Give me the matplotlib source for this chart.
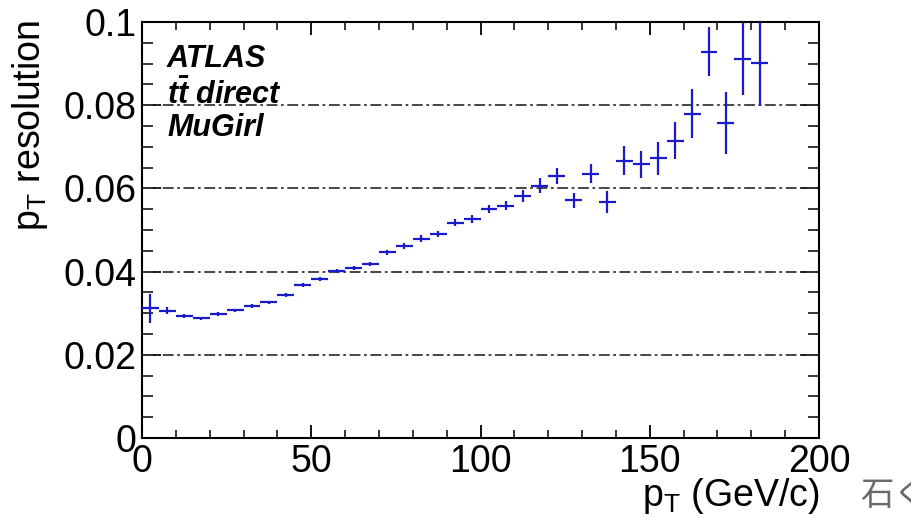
import numpy as np
import matplotlib
matplotlib.use("Agg")
import matplotlib.pyplot as plt
from matplotlib.ticker import MultipleLocator, FixedLocator

plt.rcParams['font.family'] = ['Liberation Sans', 'DejaVu Sans']
plt.rcParams['mathtext.fontset'] = 'custom'
plt.rcParams['mathtext.rm'] = 'Liberation Sans'
plt.rcParams['mathtext.it'] = 'Liberation Sans:italic'
plt.rcParams['mathtext.bf'] = 'Liberation Sans:bold'
plt.rcParams['mathtext.bfit'] = 'Liberation Sans:bold:italic'

# bin centres (GeV/c), resolution and its error
pt = [2.5, 7.5, 12.5, 17.5, 22.5, 27.5, 32.5, 37.5, 42.5, 47.5,
      52.5, 57.5, 62.5, 67.5, 72.5, 77.5, 82.5, 87.5, 92.5, 97.5,
      102.5, 107.5, 112.5, 117.5, 122.5, 127.5, 132.5, 137.5, 142.5, 147.5,
      152.5, 157.5, 162.5, 167.5, 172.5, 177.5, 182.5]
res = [0.0312, 0.0306, 0.0293, 0.0288, 0.0298, 0.0307, 0.0317, 0.0326, 0.0344, 0.0367,
       0.0382, 0.0401, 0.0409, 0.0419, 0.0447, 0.0462, 0.0479, 0.0490, 0.0518, 0.0526,
       0.0550, 0.0558, 0.0582, 0.0606, 0.0630, 0.0572, 0.0635, 0.0568, 0.0667, 0.0658,
       0.0672, 0.0715, 0.0780, 0.0929, 0.0757, 0.0911, 0.0902]
res_err = [0.0035, 0.0008, 0.0005, 0.0004, 0.0004, 0.0004, 0.0004, 0.0004, 0.0005, 0.0005,
           0.0005, 0.0005, 0.0005, 0.0005, 0.0006, 0.0007, 0.0008, 0.0008, 0.0009, 0.0009,
           0.0010, 0.0011, 0.0015, 0.0018, 0.0020, 0.0018, 0.0023, 0.0026, 0.0035, 0.0033,
           0.0039, 0.0044, 0.0058, 0.0060, 0.0075, 0.0087, 0.0104]
bin_half = 2.5

ytick_vals = [0, 0.02, 0.04, 0.06, 0.08, 0.1]
ytick_labels = ['0', '0.02', '0.04', '0.06', '0.08', '0.1']
grid_vals = [0.02, 0.04, 0.06, 0.08]

fig = plt.figure(figsize=(9.11, 5.28), dpi=100)
ax = fig.add_axes([142/911, 1-438/528, (819-142)/911, (438-22)/528])

ax.errorbar(pt, res, xerr=bin_half, yerr=res_err, fmt='none',
            ecolor='#1a1acc', elinewidth=1.6, capsize=0, zorder=3)

# dash-dot grid like ROOT
for g in grid_vals:
    ax.axhline(g, color='#383838', lw=1.3, ls=(0, (6, 2, 1.5, 2)), zorder=2)

ax.set_xlim(0, 200)
ax.set_ylim(0, 0.1)
ax.xaxis.set_major_locator(MultipleLocator(50))
ax.xaxis.set_minor_locator(MultipleLocator(10))
ax.yaxis.set_major_locator(FixedLocator(ytick_vals))
ax.set_yticklabels(ytick_labels)
ax.yaxis.set_minor_locator(MultipleLocator(0.005))

ax.tick_params(axis='both', which='both', direction='in', top=True, right=True,
               labelsize=27, color='black')
ax.tick_params(axis='x', which='major', length=9.5, width=1.3, pad=4)
ax.tick_params(axis='x', which='minor', length=5.5, width=1.1)
ax.tick_params(axis='y', which='major', length=14, width=1.3, pad=4)
ax.tick_params(axis='y', which='minor', length=8, width=1.1)
for s in ax.spines.values():
    s.set_linewidth(1.5)

fig.text(820/911, 1-506/528, r'$\mathrm{p}_\mathrm{T}$ (GeV/c)', fontsize=27,
         ha='right', va='baseline')
fig.text(30/911, 1-20/528, r'$\mathrm{p}_\mathrm{T}$ resolution', fontsize=27,
         ha='center', va='top', rotation=90)

fig.text(167/911, 1-67/528, 'ATLAS', fontsize=22, fontweight='bold', style='italic',
         ha='left', va='baseline')
fig.text(167/911, 1-104/528, r'$\mathbfit{t\bar{t}}$ direct', fontsize=22,
         fontweight='bold', style='italic', ha='left', va='baseline')
fig.text(167/911, 1-136/528, 'MuGirl', fontsize=22, fontweight='bold', style='italic',
         ha='left', va='baseline')

fig.text(860/911, 1-495/528, '石く', fontsize=24, color='#6a6a6a',
         family=['Noto Sans CJK SC', 'DejaVu Sans'], ha='left', va='center')

fig.savefig('out.png', dpi=100)
